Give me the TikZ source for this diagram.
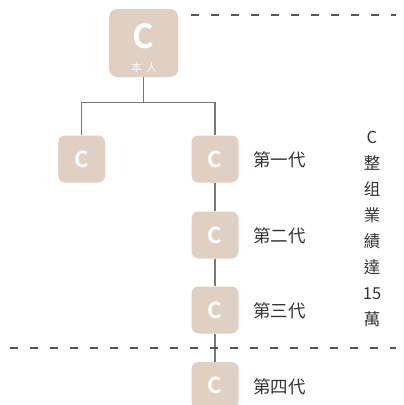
\documentclass[tikz,border=0pt]{standalone}
\usepackage{fontspec}
\newfontfamily\cjk{Noto Sans CJK TC}[BoldFont={Noto Sans CJK TC Bold}]
\definecolor{boxfill}{RGB}{224,207,195}
\definecolor{linegray}{RGB}{120,120,120}
\definecolor{dashgray}{RGB}{85,85,85}
\definecolor{txtgray}{RGB}{51,51,51}
\begin{document}
\begin{tikzpicture}[x=1pt,y=-1pt,
  cbox/.style={fill=boxfill,rounded corners=7pt,minimum width=47pt,minimum height=47pt,inner sep=0pt,
    text=white,font=\cjk\bfseries\fontsize{22}{22}\selectfont},
  bigbox/.style={fill=boxfill,rounded corners=8pt,minimum width=69pt,minimum height=68pt,inner sep=0pt},
  conn/.style={draw=linegray,line width=1.4pt},
  sep/.style={draw=dashgray,line width=1.2pt,dash pattern=on 8pt off 12pt},
  gen/.style={text=txtgray,font=\cjk\fontsize{17.5}{17.5}\selectfont,anchor=west,inner sep=0pt}]
\useasboundingbox (0,0) rectangle (404,405);
% top person
\node[bigbox] (me) at (143.7,43) {};
\node[text=white,font=\cjk\bfseries\fontsize{33}{33}\selectfont,inner sep=0pt] (meC) at (143.7,36.5) {C};
\node[text=white,font=\cjk\fontsize{10.5}{10.5}\selectfont,inner sep=0pt] (meT) at (144,68) {本\hspace{5pt}人};
% boxes
\node[cbox] (l1) at (81.7,159) {C};
\node[cbox] (g1) at (215,159) {C};
\node[cbox] (g2) at (215,235) {C};
\node[cbox] (g3) at (215,310) {C};
\node[cbox] (g4) at (215,385.5) {C};
% labels
\node[gen] (t1) at (253,160) {第一代};
\node[gen] (t2) at (253,236) {第二代};
\node[gen] (t3) at (253,311) {第三代};
\node[gen] (t4) at (253,387) {第四代};
% connectors
\coordinate (j) at (143.7,102.5);
\draw[conn] (me.south) -- (j);
\draw[conn] (l1.north) |- (j) -| (g1.north);
\draw[conn] (g1.south) -- (g2.north);
\draw[conn] (g2.south) -- (g3.north);
\draw[conn] (g3.south) -- (g4.north);
% dashed separators
\coordinate (d1a) at (190.5,15);
\coordinate (d1b) at (396,15);
\draw[sep] (d1a) -- (d1b);
\coordinate (d2a) at (10,348);
\coordinate (d2b) at (396,348);
\draw[sep] (d2a) -- (d2b);
% right column
\node[text=txtgray,font=\cjk\fontsize{16.5}{26}\selectfont,align=center,inner sep=0pt] (col) at (372,229)
  {C\\整\\组\\業\\績\\達\\15\\萬};
\end{tikzpicture}
\end{document}
